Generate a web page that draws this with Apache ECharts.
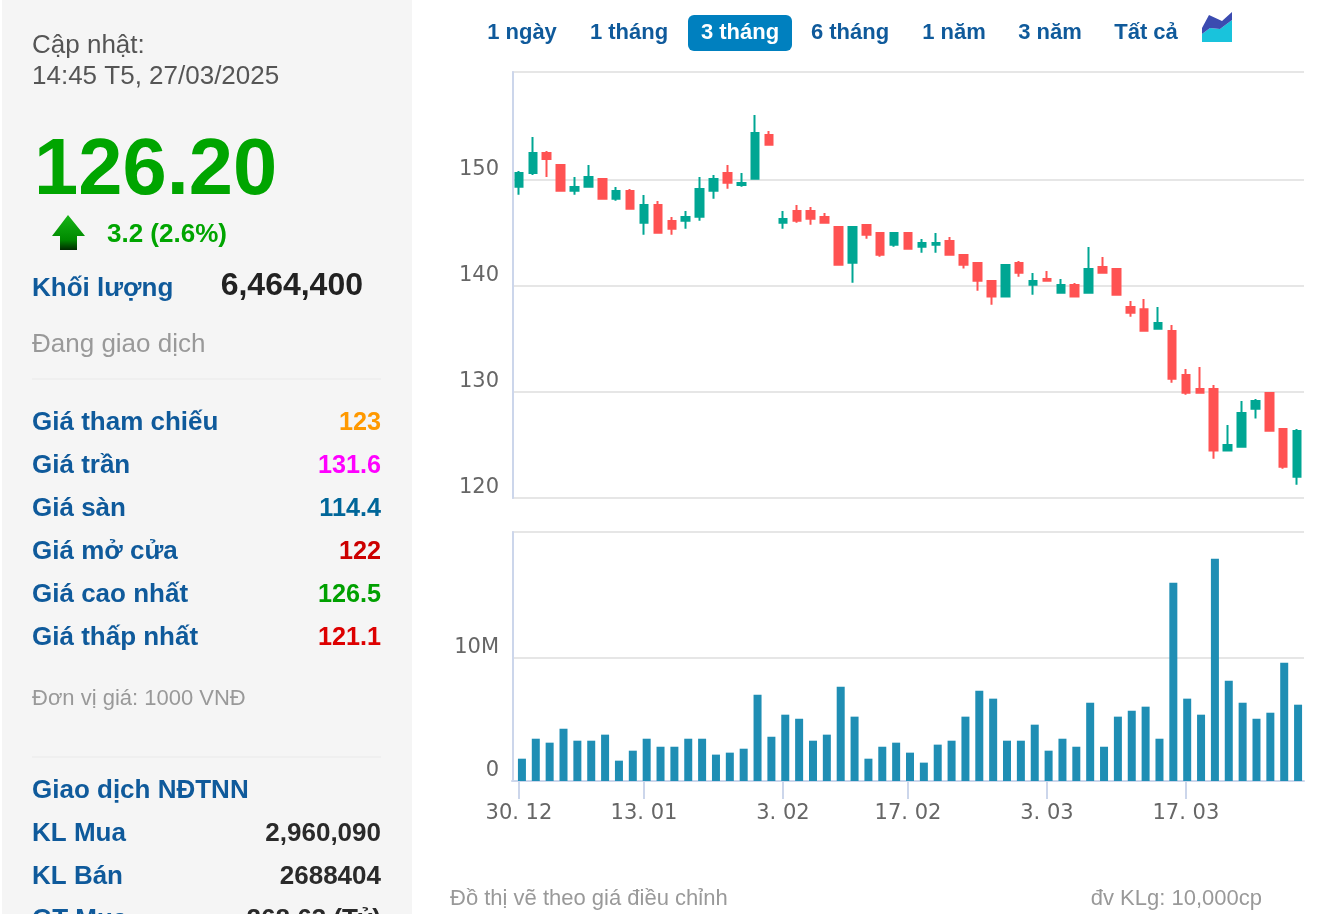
<!DOCTYPE html>
<html lang="vi">
<head>
<meta charset="utf-8">
<style>html,body{margin:0;padding:0;background:#fff;overflow:hidden}#c{width:1338px;height:914px}</style>
<script src="https://cdn.jsdelivr.net/npm/echarts@6/dist/echarts.min.js"></script>
</head>
<body>
<div id="c"></div>
<script>
const categories = ["30. 12","31. 12","2. 01","3. 01","6. 01","7. 01","8. 01","9. 01","10. 01","13. 01","14. 01","15. 01","16. 01","17. 01","20. 01","21. 01","22. 01","23. 01","24. 01","3. 02","4. 02","5. 02","6. 02","7. 02","10. 02","11. 02","12. 02","13. 02","17. 02","18. 02","19. 02","20. 02","21. 02","24. 02","25. 02","26. 02","27. 02","28. 02","3. 03","4. 03","5. 03","6. 03","7. 03","10. 03","11. 03","12. 03","13. 03","14. 03","17. 03","18. 03","19. 03","20. 03","21. 03","24. 03","25. 03","26. 03","27. 03"];
const xTickLabels = ["30. 12","13. 01","3. 02","17. 02","3. 03","17. 03"];
const priceTicks = [120,130,140,150];
const volumeTicks = [0,10];
// [open, close, low, high]
const candles = [
[149.37,150.66,148.62,150.85],[150.66,152.55,150.47,154.06],[152.55,151.98,150.28,152.74],[151.42,148.99,148.99,151.42],
[148.99,149.34,148.62,150.28],[149.37,150.28,149.37,151.42],[150.09,148.24,148.24,150.09],[148.24,148.96,148.05,149.34],
[148.96,147.30,147.30,149.15],[145.97,147.64,144.84,148.58],[147.64,145.03,145.03,148.02],[146.13,145.41,144.84,146.51],
[146.16,146.51,145.41,147.08],[146.54,149.15,146.16,150.28],[148.99,150.09,148.24,150.47],[150.66,149.75,149.18,151.42],
[149.53,149.72,149.37,150.66],[150.13,154.43,150.13,156.13],[154.25,153.33,153.33,154.62],[145.97,146.32,145.41,147.08],
[147.08,146.16,145.97,147.64],[147.08,146.35,145.79,147.45],[146.51,145.97,145.97,146.89],[145.57,142.01,142.01,145.57],
[142.20,145.57,140.31,145.57],[145.75,144.84,144.47,145.75],[145.00,142.96,142.77,145.00],[143.90,145.00,143.71,145.00],
[145.00,143.52,143.52,145.00],[143.71,144.06,143.14,144.43],[143.90,144.06,143.14,145.00],[144.25,142.96,142.96,144.62],
[142.92,142.01,141.64,142.92],[142.17,140.50,139.56,142.17],[140.47,139.00,138.24,140.47],[139.00,141.98,139.00,141.98],
[142.17,141.25,140.88,142.36],[140.13,140.47,139.18,141.23],[140.66,140.50,140.50,141.42],[139.37,140.09,139.37,140.66],
[140.09,139.00,139.00,140.28],[139.37,141.60,139.37,143.68],[141.79,141.25,141.25,142.74],[141.60,139.18,139.18,141.60],
[138.01,137.48,137.10,138.58],[137.81,135.78,135.78,138.77],[135.97,136.51,135.97,138.01],[135.75,131.25,130.87,136.32],
[131.60,129.94,129.75,132.17],[130.28,129.94,129.94,132.36],[130.28,124.47,123.71,130.65],[124.47,125.00,124.47,126.89],
[124.84,128.02,124.84,129.15],[128.42,129.15,127.49,129.34],[129.91,126.35,126.35,129.91],[126.51,122.96,122.77,126.51],
[122.01,126.32,121.26,126.51]];
// millions of shares
const volumes = [1.81,3.43,3.11,4.24,3.27,3.27,3.76,1.65,2.46,3.43,2.78,2.78,3.43,3.43,2.14,2.30,2.62,7.00,3.59,5.38,5.05,3.27,3.76,7.65,5.22,1.81,2.78,3.11,2.30,1.49,2.95,3.27,5.22,7.32,6.68,3.27,3.27,4.57,2.46,3.43,2.78,6.35,2.78,5.22,5.70,6.03,3.43,16.08,6.68,5.38,18.03,8.14,6.35,5.05,5.54,9.59,6.19];
const rangeButtons = [["1 ngày",522],["1 tháng",629],["3 tháng",740],["6 tháng",850],["1 năm",954],["3 năm",1050],["Tất cả",1146]];
const statRows = [["Giá tham chiếu","123","#ff9900",421],["Giá trần","131.6","#ff00ff",464],["Giá sàn","114.4","#006699",507],["Giá mở cửa","122","#cc0000",550],["Giá cao nhất","126.5","#00a000",593],["Giá thấp nhất","121.1","#dd0000",636]];
const foreignRows = [["KL Mua","2,960,090",832],["KL Bán","2688404",875],["GT Mua","268.63 (Tỷ)",918]];

const SANS = '"Liberation Sans", Arial, sans-serif';
const AXIS_FONT = '"DejaVu Sans", sans-serif';
const BLUE = '#0f5a9b', GRID = '#e6e6e6', AXIS = '#ccd6eb';
const txt = (text,x,y,size,fill,bold,align) => ({type:'text',z:5,silent:true,style:{text,x,y:y+2,fill,align:align||'left',verticalAlign:'middle',font:(bold?'bold ':'')+size+'px '+SANS}});
const hline = y => ({type:'line',z:4,silent:true,shape:{x1:32,y1:y,x2:381,y2:y},style:{stroke:'#ececec',lineWidth:1.5}});

const graphics = [
  {type:'rect',z:1,silent:true,shape:{x:2,y:0,width:410,height:914},style:{fill:'#f5f5f5'}},
  txt('Cập nhật:',32,44,26,'#555555'),
  txt('14:45 T5, 27/03/2025',32,75,26,'#555555'),
  txt('126.20',34,170,79.5,'#00a500',true),
  {type:'polygon',z:5,silent:true,shape:{points:[[68,215],[85,236],[77,236],[77,250],[60,250],[60,236],[52,236]]},
    style:{fill:{type:'linear',x:0,y:0,x2:0,y2:1,colorStops:[{offset:0,color:'#16b516'},{offset:.7,color:'#008a00'},{offset:1,color:'#002a00'}]}}},
  txt('3.2 (2.6%)',107,233,26,'#00a500',true),
  txt('Khối lượng',32,287,26,BLUE,true),
  txt('6,464,400',363,284,32,'#222222',true,'right'),
  txt('Đang giao dịch',32,343,26,'#999999'),
  hline(379),
  txt('Đơn vị giá: 1000 VNĐ',32,697,22,'#999999'),
  hline(757),
  txt('Giao dịch NĐTNN',32,789,26,BLUE,true),
  txt('Đồ thị vẽ theo giá điều chỉnh',450,897,22,'#999999'),
  txt('đv KLg: 10,000cp',1262,897,22,'#999999',false,'right'),
  {type:'rect',z:4,silent:true,shape:{x:688,y:15,width:104,height:36,r:6},style:{fill:'#0080bf'}},
  {type:'polygon',z:5,silent:true,shape:{points:[[1202,34],[1210,28],[1220,29],[1232,20],[1232,42],[1202,42]]},style:{fill:'#19c3dc'}},
  {type:'polygon',z:5,silent:true,shape:{points:[[1202,28],[1209,15],[1222,21],[1232,12],[1232,20],[1220,29],[1210,28],[1202,34]]},style:{fill:'#3b4bb0'}}
];
rangeButtons.forEach(([t,x]) => graphics.push(txt(t,x,31,22,t==='3 tháng'?'#ffffff':BLUE,true,'center')));
statRows.forEach(([l,v,c,y]) => { graphics.push(txt(l,32,y,26,BLUE,true)); graphics.push(txt(v,381,y,25.2,c,true,'right')); });
foreignRows.forEach(([l,v,y]) => { graphics.push(txt(l,32,y,26,BLUE,true)); graphics.push(txt(v,381,y,26,'#2a2a2a',true,'right')); });

const yCommon = {
  type:'value', offset:-1, axisTick:{show:false},
  axisLine:{show:true,lineStyle:{color:AXIS,width:2}},
};
const splitColors = [GRID,GRID,'rgba(0,0,0,0)',GRID];

const chart = echarts.init(document.getElementById('c'));
chart.setOption({
  animation:false,
  backgroundColor:'#ffffff',
  graphic:{elements:graphics},
  grid:[
    {left:512,top:72,width:792,height:426},
    {left:512,top:532,width:792,height:249},
    {left:515,top:532,width:790,height:249}
  ],
  xAxis:[
    {type:'category',gridIndex:0,data:categories,axisLine:{show:false},axisTick:{show:false},axisLabel:{show:false},splitLine:{show:false}},
    {type:'category',gridIndex:1,data:categories,
      axisLine:{show:true,lineStyle:{color:AXIS,width:2}},
      axisTick:{show:true,alignWithLabel:true,length:18,lineStyle:{color:AXIS,width:2},interval:(i,v)=>xTickLabels.includes(v)},
      axisLabel:{interval:(i,v)=>xTickLabels.includes(v),margin:22,color:'#666666',fontFamily:AXIS_FONT,fontSize:21,hideOverlap:false},
      splitLine:{show:false}},
    {type:'category',gridIndex:2,data:categories,show:false}
  ],
  yAxis:[
    Object.assign({},yCommon,{gridIndex:0,min:120,max:160.19,interval:10,
      splitLine:{show:true,lineStyle:{color:[GRID,GRID,GRID,GRID,'rgba(0,0,0,0)',GRID],width:2}},
      axisLabel:{margin:14,verticalAlign:'bottom',color:'#666666',fontFamily:AXIS_FONT,fontSize:21,padding:0,
        formatter:v=>priceTicks.includes(v)?String(v):''}}),
    Object.assign({},yCommon,{gridIndex:1,min:0,max:20.2,interval:10,
      splitLine:{show:true,lineStyle:{color:splitColors,width:2}},
      axisLabel:{margin:14,verticalAlign:'bottom',color:'#666666',fontFamily:AXIS_FONT,fontSize:21,padding:0,
        formatter:v=>volumeTicks.includes(v)?(v===0?'0':v+'M'):''}}),
    {type:'value',gridIndex:2,min:0,max:20.2,show:false,splitLine:{show:false}}
  ],
  series:[
    {type:'candlestick',xAxisIndex:0,yAxisIndex:0,data:candles,barWidth:8,z:3,
      itemStyle:{color:'#00a693',color0:'#ff5252',borderColor:'#00a693',borderColor0:'#ff5252',borderWidth:2}},
    {type:'bar',xAxisIndex:2,yAxisIndex:2,data:volumes,barWidth:8,z:3,itemStyle:{color:'#1f8eb4'}}
  ]
});
</script>
</body>
</html>
